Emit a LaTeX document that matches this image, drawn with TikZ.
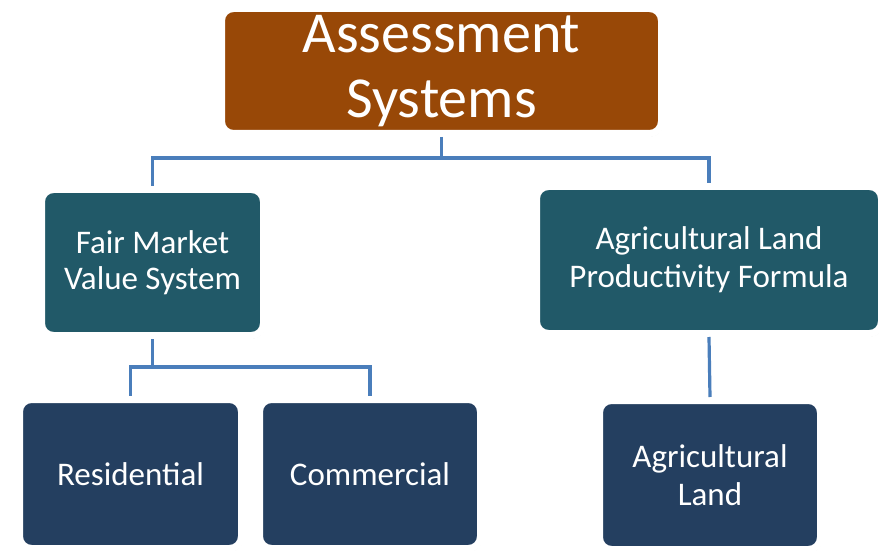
\documentclass[tikz,border=0pt]{standalone}
\usepackage{fontspec}
\setmainfont{Carlito}
\usetikzlibrary{shadows}
\definecolor{brownbox}{HTML}{984807}
\definecolor{tealbox}{HTML}{215968}
\definecolor{navybox}{HTML}{243F60}
\definecolor{linkblue}{HTML}{4A7EBB}
\tikzset{
  box/.style={draw=white, line width=7pt, rounded corners=12pt, text=white, align=center,
    inner sep=0pt, drop shadow={shadow xshift=1pt, shadow yshift=-3pt, fill=black!35, opacity=0.5}},
  link/.style={draw=linkblue, line width=3.2pt}
}
\begin{document}
\begin{tikzpicture}[x=1pt,y=1pt]
\useasboundingbox (0,0) rectangle (879,550);
\fill[white] (0,0) rectangle (879,550);
\node[box, fill=brownbox, minimum width=440pt, minimum height=125pt,
  font=\fontsize{58}{65}\selectfont] (top) at (441.5,479) {Assessment\\Systems};
\node[box, fill=tealbox, minimum width=222pt, minimum height=146pt,
  font=\fontsize{33}{36}\selectfont] (fmv) at (152.5,287.5) {Fair Market\\Value System};
\node[box, fill=tealbox, minimum width=345pt, minimum height=147pt,
  font=\fontsize{33}{38}\selectfont] (apf) at (709,290) {Agricultural Land\\Productivity Formula};
\node[box, fill=navybox, minimum width=222pt, minimum height=149pt,
  font=\fontsize{33}{36}\selectfont] (res) at (130.5,76) {Residential};
\node[box, fill=navybox, minimum width=221pt, minimum height=149pt,
  font=\fontsize{33}{36}\selectfont] (com) at (370,76) {Commercial};
\node[box, fill=navybox, minimum width=221pt, minimum height=149pt,
  font=\fontsize{33}{38}\selectfont] (agl) at (710,75) {Agricultural\\Land};
\coordinate (j1) at (441.5,392);
\coordinate (j2) at (152.5,183);
\draw[link] (top.south) -- (j1);
\draw[link] (j1) -| (fmv.north);
\draw[link] (j1) -| (apf.north);
\draw[link] (fmv.south) -- (j2);
\draw[link] (j2) -| (res.north);
\draw[link] (j2) -| (com.north);
\draw[link] (apf.south) -- (agl.north);
\end{tikzpicture}
\end{document}
